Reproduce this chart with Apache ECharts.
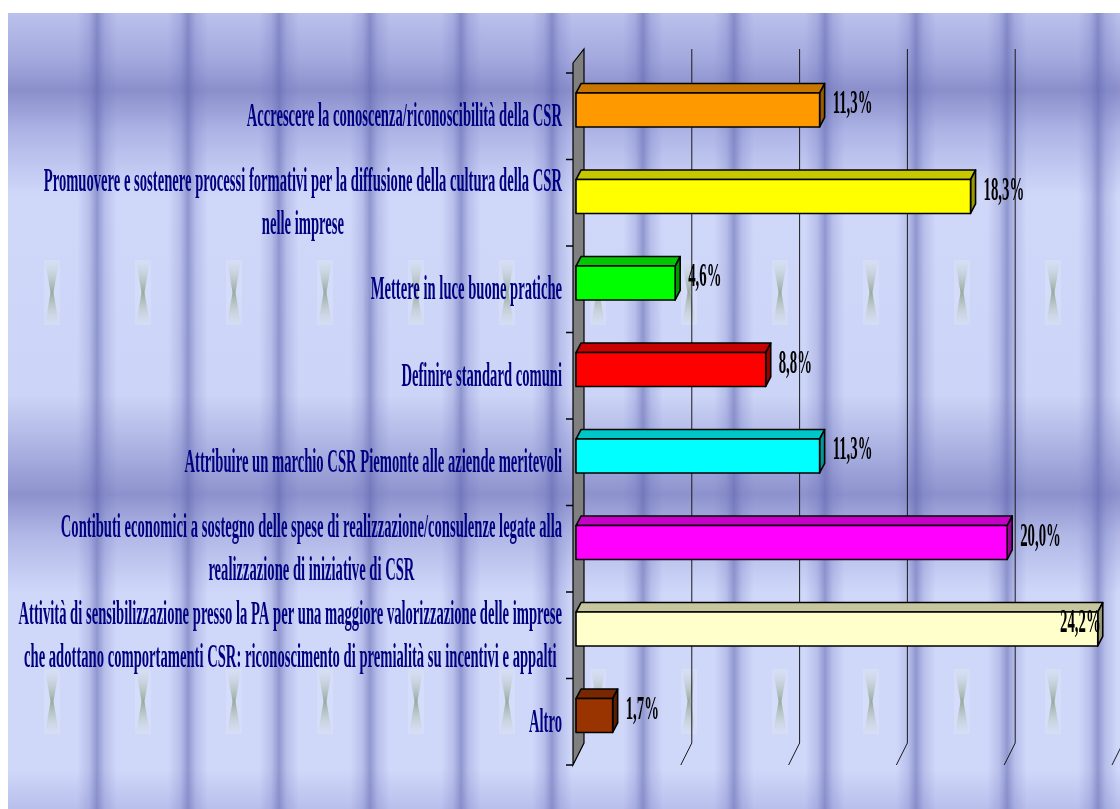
<!DOCTYPE html>
<html>
<head>
<meta charset="utf-8">
<script src="https://cdn.jsdelivr.net/npm/echarts@6/dist/echarts.min.js"></script>
<style>
  html, body { margin: 0; padding: 0; background: #ffffff; }
  #chart { width: 1120px; height: 809px; }
</style>
</head>
<body>
<div id="chart"></div>
<script>
// ---- data ----
const categories = [
  'Accrescere la conoscenza/riconoscibilità della CSR',
  'Promuovere e sostenere processi formativi per la diffusione della cultura della CSR\nnelle imprese',
  'Mettere in luce buone pratiche',
  'Definire standard comuni',
  'Attribuire un marchio CSR Piemonte alle aziende meritevoli',
  'Contibuti economici a sostegno delle spese di realizzazione/consulenze legate alla\nrealizzazione di iniziative di CSR',
  'Attività di sensibilizzazione presso la PA per una maggiore valorizzazione delle imprese\nche adottano comportamenti CSR: riconoscimento di premialità su incentivi e appalti',
  'Altro'
];
const values = [11.3, 18.3, 4.6, 8.8, 11.3, 20.0, 24.2, 1.7];
const valueLabels = ['11,3%', '18,3%', '4,6%', '8,8%', '11,3%', '20,0%', '24,2%', '1,7%'];
const barColors = ['#FF9900', '#FFFF00', '#00FF00', '#FF0000', '#00FFFF', '#FF00FF', '#FFFFCC', '#993300'];
const valueTicks = [0, 5, 10, 15, 20, 25];

// ---- styling ----
const LABEL_FONT = 'bold 34px "Liberation Serif", "Times New Roman", serif';
const CAT_SX = 0.43;           // condensed lettering of category names
const VAL_SX = 0.435;          // condensed lettering of value labels
const PLOT_DX = 5.5, PLOT_DY = 11;   // half depth of the 3D plot box
const BAR_DX = 5, BAR_DY = -9.5;     // depth of each bar
const BAR_SHIFT_X = -2.5, BAR_SHIFT_Y = 4.75;

const measureCtx = document.createElement('canvas').getContext('2d');
function textWidth(str, font) {
  measureCtx.font = font;
  return Math.max.apply(null, str.split('\n').map(l => measureCtx.measureText(l).width));
}
function shade(hex, f) {
  const n = parseInt(hex.slice(1), 16);
  const r = Math.round(((n >> 16) & 255) * f);
  const g = Math.round(((n >> 8) & 255) * f);
  const b = Math.round((n & 255) * f);
  return 'rgb(' + r + ',' + g + ',' + b + ')';
}

// ---- textured backdrop ----
const W = 1120, H = 809, BG_X = 8, BG_Y = 13;
const bg = [];
bg.push({
  type: 'rect', silent: true, z: -10,
  shape: { x: BG_X, y: BG_Y, width: W - BG_X, height: H - BG_Y },
  style: {
    fill: new echarts.graphic.LinearGradient(0, 0, 0, 1, [
      { offset: 0.000, color: '#BAC1EC' },
      { offset: 0.060, color: '#A2A8DD' },
      { offset: 0.097, color: '#8A8FCB' },
      { offset: 0.150, color: '#AEB5E6' },
      { offset: 0.230, color: '#D0D8FA' },
      { offset: 0.480, color: '#CCD4F7' },
      { offset: 0.555, color: '#A7AEDF' },
      { offset: 0.605, color: '#8D92CD' },
      { offset: 0.655, color: '#B0B7E6' },
      { offset: 0.730, color: '#D0D8FA' },
      { offset: 0.950, color: '#D0D8FA' },
      { offset: 1.000, color: '#B8BFEC' }
    ])
  }
});
for (let cx = 97; cx < W + 20; cx += 91) {
  bg.push({
    type: 'rect', silent: true, z: -9,
    shape: { x: cx - 20, y: BG_Y, width: 40, height: H - BG_Y },
    style: {
      fill: new echarts.graphic.LinearGradient(0, 0, 1, 0, [
        { offset: 0.00, color: 'rgba(100,106,182,0)' },
        { offset: 0.30, color: 'rgba(100,106,182,0.22)' },
        { offset: 0.50, color: 'rgba(92,98,172,0.55)' },
        { offset: 0.70, color: 'rgba(100,106,182,0.22)' },
        { offset: 1.00, color: 'rgba(100,106,182,0)' }
      ])
    }
  });
}
[[260, 325], [669, 734]].forEach(function (row) {
  const y0 = row[0], y1 = row[1], ym = (y0 + y1) / 2;
  for (let cx = 52; cx < W; cx += 91) {
    bg.push({
      type: 'rect', silent: true, z: -8,
      shape: { x: cx - 8, y: y0, width: 16, height: y1 - y0 },
      style: { fill: 'rgba(225,232,252,0.35)' }
    });
    bg.push({
      type: 'polygon', silent: true, z: -7,
      shape: { points: [[cx - 7, y0], [cx + 7, y0], [cx + 1.5, ym], [cx + 7, y1], [cx - 7, y1], [cx - 1.5, ym]] },
      style: {
        fill: new echarts.graphic.LinearGradient(0, 0, 0, 1, [
          { offset: 0.0, color: 'rgba(215,228,215,0.15)' },
          { offset: 0.5, color: 'rgba(112,136,96,0.6)' },
          { offset: 1.0, color: 'rgba(215,228,215,0.15)' }
        ])
      }
    });
  }
});

// ---- plot frame: side wall, gridlines, category ticks ----
function renderFrame(params, api) {
  const v = api.value(0);
  const n = categories.length;
  const band = api.size([0, 1])[1];
  const x = api.coord([v, 0])[0];
  const yTop = api.coord([0, 0])[1] - band / 2;
  const yBot = api.coord([0, n - 1])[1] + band / 2;
  const xb = x + PLOT_DX, xf = x - PLOT_DX;
  const lineStyle = { stroke: '#1a1a1a', lineWidth: 1, fill: null };
  const children = [];
  if (v === 0) {
    children.push({
      type: 'polygon',
      shape: { points: [[xf, yTop + PLOT_DY - 10], [xb, yTop - PLOT_DY - 2], [xb, yBot - PLOT_DY], [xf, yBot + PLOT_DY]] },
      style: { fill: '#808080', stroke: '#000000', lineWidth: 1.2 }
    });
    for (let i = 0; i <= n; i++) {
      const y = yTop + PLOT_DY + i * band;
      children.push({ type: 'line', shape: { x1: xf - 7, y1: y, x2: xf, y2: y }, style: { stroke: '#000000', lineWidth: 1.5 } });
    }
  } else {
    children.push({
      type: 'polyline',
      shape: { points: [[xb, yTop - PLOT_DY - 2], [xb, yBot - PLOT_DY], [xf, yBot + PLOT_DY]] },
      style: lineStyle
    });
  }
  return { type: 'group', children: children };
}

// ---- 3D bars with value and category labels ----
function renderBar(params, api) {
  const v = api.value(0), i = api.value(1);
  const p0 = api.coord([0, i]), p1 = api.coord([v, i]);
  const band = api.size([0, 1])[1];
  const h = band * 0.393;
  const fx0 = p0[0] + BAR_SHIFT_X, fx1 = p1[0] + BAR_SHIFT_X;
  const fy0 = p0[1] + BAR_SHIFT_Y - h / 2, fy1 = fy0 + h;
  const c = barColors[i];
  const edge = { stroke: '#000000', lineWidth: 1.6, lineJoin: 'round' };
  const children = [
    { type: 'polygon', shape: { points: [[fx0, fy0], [fx0 + BAR_DX, fy0 + BAR_DY], [fx1 + BAR_DX, fy0 + BAR_DY], [fx1, fy0]] },
      style: Object.assign({ fill: shade(c, 0.78) }, edge) },
    { type: 'polygon', shape: { points: [[fx1, fy0], [fx1 + BAR_DX, fy0 + BAR_DY], [fx1 + BAR_DX, fy1 + BAR_DY], [fx1, fy1]] },
      style: Object.assign({ fill: shade(c, 0.6) }, edge) },
    { type: 'rect', shape: { x: fx0, y: fy0, width: fx1 - fx0, height: h },
      style: Object.assign({ fill: c }, edge) }
  ];

  // value label: beside the bar, or inside its end when there is no room
  const lbl = valueLabels[i];
  const lw = textWidth(lbl, LABEL_FONT) * VAL_SX;
  const limit = api.coord([valueTicks[valueTicks.length - 1], i])[0];
  let lx = fx1 + 13;
  if (lx + lw > limit) lx = fx1 + 3 - lw;
  children.push({
    type: 'text', x: lx, y: p0[1] - 1, scaleX: VAL_SX, z2: 10,
    style: { text: lbl, font: LABEL_FONT, fill: '#000000', align: 'left', verticalAlign: 'middle' }
  });

  // category label, right edge just left of the axis ticks
  const cat = categories[i];
  const cw = textWidth(cat, LABEL_FONT) * CAT_SX;
  const right = p0[0] - PLOT_DX - 11;
  children.push({
    type: 'text', x: right - cw / 2, y: p0[1] + PLOT_DY + 1, scaleX: CAT_SX, z2: 10,
    style: { text: cat, font: LABEL_FONT, fill: '#000080', align: 'center', verticalAlign: 'middle', lineHeight: 43 }
  });
  return { type: 'group', children: children };
}

const chart = echarts.init(document.getElementById('chart'), null, { renderer: 'canvas' });
chart.setOption({
  animation: false,
  backgroundColor: '#ffffff',
  grid: { left: 578.5, right: 2.5, top: 62, bottom: 55 },
  xAxis: { type: 'value', min: 0, max: 25, interval: 5, show: false },
  yAxis: { type: 'category', data: categories, inverse: true, show: false },
  graphic: { elements: bg },
  series: [
    { type: 'custom', name: 'frame', renderItem: renderFrame, data: valueTicks.map(t => [t, 0]), encode: { x: 0, y: 1 }, z: 1, silent: true },
    { type: 'custom', name: 'bars', renderItem: renderBar, data: values.map((v, i) => [v, i]), encode: { x: 0, y: 1 }, z: 2 }
  ]
});
</script>
</body>
</html>
